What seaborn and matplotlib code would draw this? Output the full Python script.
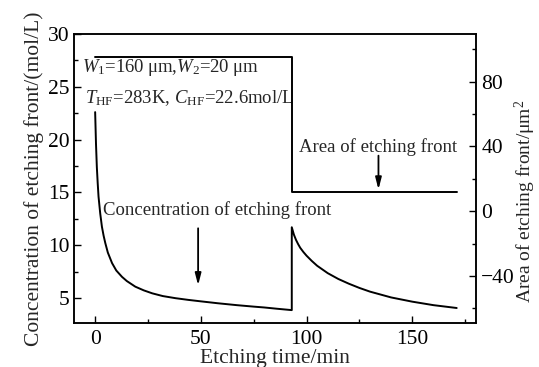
import matplotlib
matplotlib.use("Agg")
import matplotlib.pyplot as plt
from matplotlib.ticker import MultipleLocator, FuncFormatter
import seaborn as sns

# Concentration of the etching front (mol/L) versus etching time (min)
conc_time = [0, 0.4, 0.8, 1.2, 1.6, 2.4, 3.2, 4, 4.8, 6, 8, 10, 12.7, 15, 19, 23, 27,
             32, 38, 44, 50, 58, 67, 75, 80, 86, 93,
             93, 94, 95, 96, 97, 98.5, 100, 102.5, 105, 110, 115, 120, 125, 130,
             140, 150, 160, 171]
conc_value = [22.6, 19.6, 17.4, 15.9, 14.6, 13.0, 11.75, 10.9, 10.2, 9.3, 8.3, 7.6, 7.0,
              6.6, 6.07, 5.72, 5.44, 5.18, 4.98, 4.82, 4.68, 4.5, 4.32, 4.18, 4.1, 3.98, 3.85,
              11.7, 11.0, 10.5, 10.1, 9.75, 9.35, 9.0, 8.5, 8.05, 7.35, 6.8, 6.35, 5.95, 5.6,
              5.05, 4.65, 4.32, 4.05]

# Area of the etching front (um^2), a step change at t = 93 min
area_time = [0, 93, 171]
area_value = [95.5, 12, 12]

sns.set_style("ticks")
plt.rcParams["font.family"] = ["Liberation Serif", "DejaVu Serif"]
plt.rcParams["mathtext.fontset"] = "custom"
plt.rcParams["mathtext.rm"] = "Liberation Serif"
plt.rcParams["mathtext.it"] = "Liberation Serif:italic"
plt.rcParams["mathtext.bf"] = "Liberation Serif:bold"

fig = plt.figure(figsize=(5.39, 3.67), dpi=100)
ax = fig.add_axes([0.1373, 0.1199, 0.7453, 0.7875])
ax2 = ax.twinx()

sns.lineplot(x=conc_time, y=conc_value, ax=ax, color="black", lw=1.4,
             estimator=None, sort=False)
sns.lineplot(x=area_time, y=area_value, ax=ax2, color="black", lw=1.4,
             drawstyle="steps-post", estimator=None, sort=False)

ax.set_xlim(-10, 180)
ax.set_ylim(2.63, 30)
ax2.set_ylim(-69, 109.4)

fs_tick = 15.5
fs_label = 15.5
fs_note = 13.5

ax.xaxis.set_major_locator(MultipleLocator(50))
ax.xaxis.set_minor_locator(MultipleLocator(25))
ax.yaxis.set_major_locator(MultipleLocator(5))
ax.yaxis.set_minor_locator(MultipleLocator(2.5))
ax2.yaxis.set_major_locator(MultipleLocator(40))
ax2.yaxis.set_minor_locator(MultipleLocator(20))

for a in (ax, ax2):
    for s in a.spines.values():
        s.set_linewidth(1.1)
        s.set_color("black")
    a.tick_params(which="both", direction="in", width=1.0, colors="black",
                  labelsize=fs_tick)
    a.tick_params(which="major", length=5)
    a.tick_params(which="minor", length=3)
ax.tick_params(axis="y", which="both", left=True, right=False, pad=3)
ax.tick_params(axis="x", which="both", top=False, bottom=True, pad=5)
ax2.tick_params(axis="y", which="both", right=True, left=False, pad=4)
ax2.yaxis.set_major_formatter(FuncFormatter(
    lambda v, p: f"{int(v)}".replace("-", "\u2212")))

ax.set_xlabel("Etching time/min", fontsize=fs_label, labelpad=0)
ax.set_ylabel("Concentration of etching front/(mol/L)", fontsize=fs_label, labelpad=3)
ax2.set_ylabel("Area of etching front/\u03bcm$^2$", fontsize=14, labelpad=0)
ax2.yaxis.set_label_coords(1.093, 0.42)

ax.text(-6.3, 26.8, "$W_1$=160\u2009\u03bcm,$W_2$=20\u2009\u03bcm", fontsize=fs_note,
        ha="left", va="center")
ax.text(-4.8, 23.9, r"$T_{\rm HF}$=283K, $C_{\rm HF}$=22.6mol/L", fontsize=fs_note,
        ha="left", va="center")

ax.text(57.5, 13.3, "Concentration of etching front", fontsize=fs_note,
        ha="center", va="center")
ax.annotate("", xy=(48.7, 6.2), xytext=(48.7, 11.6),
            arrowprops=dict(arrowstyle="-|>,head_length=0.7,head_width=0.18",
                            color="black", lw=1.3, shrinkA=0, shrinkB=0))

ax2.text(134, 39.4, "Area of etching front", fontsize=fs_note, ha="center", va="center")
ax2.annotate("", xy=(134, 13.4), xytext=(134, 34.3),
             arrowprops=dict(arrowstyle="-|>,head_length=0.7,head_width=0.18",
                             color="black", lw=1.3, shrinkA=0, shrinkB=0))

fig.savefig("out.png", dpi=100)
